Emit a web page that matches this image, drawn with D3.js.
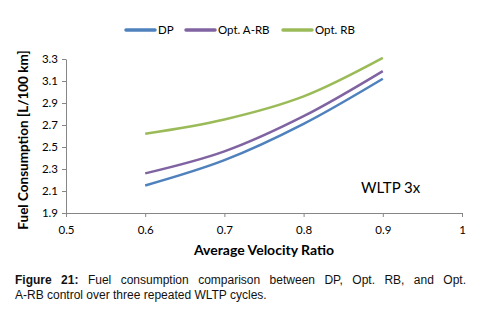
<!DOCTYPE html>
<html>
<head>
<meta charset="utf-8">
<script src="https://cdn.jsdelivr.net/npm/d3@7"></script>
<style>
    body { margin: 0; background: #fff; }
    .tick text { font-family: Lato, "Open Sans", sans-serif; font-size: 11.5px; fill: #000; }
    .axis path, .axis line { stroke: #868686; }
</style>
</head>
<body>
<div id="chart"></div>
<script>
// data
let ratios = [0.6, 0.7, 0.8, 0.9];
let dpValues = [2.15, 2.38, 2.71, 3.12];
let optARBValues = [2.26, 2.46, 2.78, 3.19];
let optRBValues = [2.62, 2.75, 2.96, 3.31];
let seriesNames = ["DP", "Opt. A-RB", "Opt. RB"];
let seriesColors = ["#4f81bd", "#8064a2", "#9bbb59"];
let xTicks = [0.5, 0.6, 0.7, 0.8, 0.9, 1];
let yTicks = [1.9, 2.1, 2.3, 2.5, 2.7, 2.9, 3.1, 3.3];

let series = [dpValues, optARBValues, optRBValues].map((vals, i) => ({
    name: seriesNames[i],
    color: seriesColors[i],
    values: vals.map((v, j) => ({x: ratios[j], y: v}))
}));

let width = 480, height = 318;
let margin = {top: 59, right: 18, bottom: 105, left: 66};

let svg = d3.select("#chart").append("svg")
    .attr("width", width)
    .attr("height", height);

let x = d3.scaleLinear()
    .domain([0.5, 1])
    .range([margin.left, width - margin.right]);

let y = d3.scaleLinear()
    .domain([1.9, 3.3])
    .range([height - margin.bottom, margin.top]);

// axes
svg.append("g")
    .attr("class", "axis x-axis")
    .attr("transform", `translate(0, ${y(1.9)})`)
    .call(d3.axisBottom(x).tickValues(xTicks).tickSize(4).tickSizeOuter(0).tickFormat(d3.format("")))
    .call(g => g.selectAll(".tick text").attr("dy", "1.2em"));

svg.append("g")
    .attr("class", "axis y-axis")
    .attr("transform", `translate(${x(0.5)}, 0)`)
    .call(d3.axisLeft(y).tickValues(yTicks).tickSize(4).tickSizeOuter(0).tickFormat(d3.format(".1f")))
    .call(g => g.selectAll(".tick text").attr("x", -8));

// lines
let line = d3.line()
    .x(d => x(d.x))
    .y(d => y(d.y))
    .curve(d3.curveCatmullRom.alpha(0.5));

svg.selectAll(".series")
    .data(series)
    .enter()
    .append("path")
    .attr("class", "series")
    .attr("fill", "none")
    .attr("stroke", d => d.color)
    .attr("stroke-width", 2.5)
    .attr("d", d => line(d.values));

// legend
let legendX = [126, 186, 283];
let legend = svg.selectAll(".legend")
    .data(series)
    .enter()
    .append("g")
    .attr("class", "legend")
    .attr("transform", (d, i) => `translate(${legendX[i]}, 30)`);

legend.append("line")
    .attr("x1", 0).attr("x2", 29)
    .attr("stroke", d => d.color)
    .attr("stroke-width", 3.5)
    .attr("stroke-linecap", "round");

legend.append("text")
    .attr("x", 32)
    .attr("dy", "0.35em")
    .style("font-family", "Lato, 'Open Sans', sans-serif")
    .style("font-size", "11.5px")
    .text(d => d.name);

// axis titles
svg.append("text")
    .attr("x", (x(0.5) + x(1)) / 2)
    .attr("y", 255)
    .attr("text-anchor", "middle")
    .style("font-family", "Lato, 'Open Sans', sans-serif")
    .style("font-weight", "bold")
    .style("font-size", "14px")
    .text("Average Velocity Ratio");

svg.append("text")
    .attr("transform", `translate(28, ${(y(1.9) + y(3.3)) / 2 + 4}) rotate(-90)`)
    .attr("text-anchor", "middle")
    .style("font-family", "Lato, 'Open Sans', sans-serif")
    .style("font-weight", "bold")
    .style("font-size", "13.5px")
    .text("Fuel Consumption [L/100 km]");

svg.append("text")
    .attr("x", 361)
    .attr("y", 193)
    .style("font-family", "Lato, 'Open Sans', sans-serif")
    .style("font-size", "15px")
    .text("WLTP 3x");

// caption, first line justified by word spacing
let caption = svg.append("text")
    .style("font-family", "'Liberation Sans', Arial, sans-serif")
    .style("font-size", "12px")
    .attr("fill", "#111");

let capBold = "Figure 21:";
let capRest = " Fuel consumption comparison between DP, Opt. RB, and Opt.";

let line1 = caption.append("tspan")
    .attr("x", 15).attr("y", 284);
line1.append("tspan").style("font-weight", "bold").text(capBold);
line1.append("tspan").text(capRest);

let natural = line1.node().getComputedTextLength();
let gaps = (capBold + capRest).split(" ").length - 1;
let extra = Math.max(0, (466 - 15 - natural) / gaps);
line1.selectAll("tspan").style("word-spacing", extra + "px");

caption.append("tspan")
    .attr("x", 15).attr("y", 299)
    .text("A-RB control over three repeated WLTP cycles.");
</script>
</body>
</html>
